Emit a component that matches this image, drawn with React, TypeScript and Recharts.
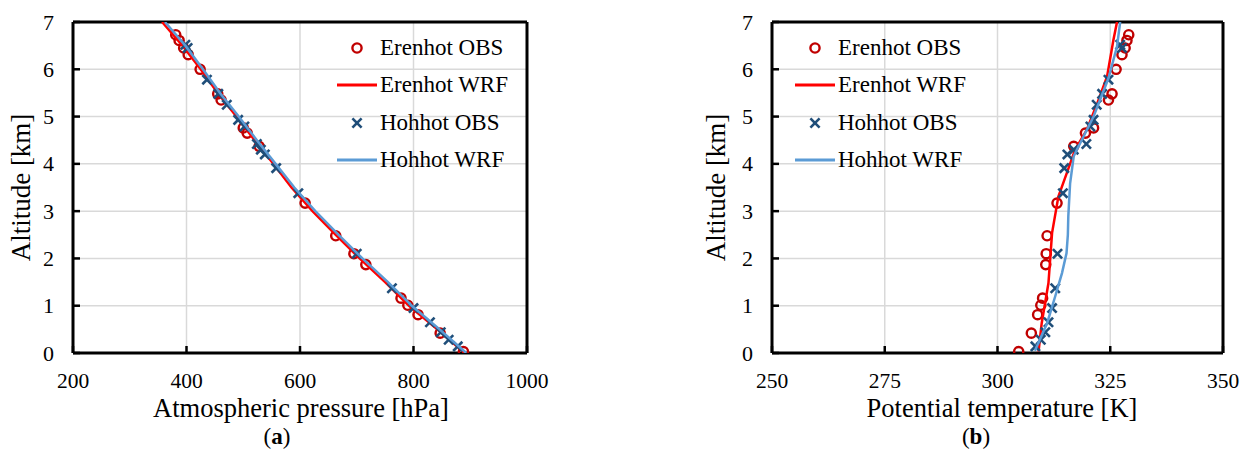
import React from 'react';
import { ScatterChart, Scatter, XAxis, YAxis, CartesianGrid, ReferenceLine, Legend } from 'recharts';

const FONT = '"Liberation Serif", "Times New Roman", Times, serif';

const altitudeTicks = [0, 1, 2, 3, 4, 5, 6, 7];
const pressureTicks = [200, 400, 600, 800, 1000];
const thetaTicks = [250, 275, 300, 325, 350];

const seriesNames = ['Erenhot OBS', 'Erenhot WRF', 'Hohhot OBS', 'Hohhot WRF'];

// Erenhot observations
const erenhotObsAlt = [6.73, 6.61, 6.45, 6.31, 6.0, 5.48, 5.35, 4.76, 4.65, 4.37, 3.17, 2.48, 2.1, 1.87, 1.16, 1.01, 0.81, 0.42, 0.03];
const erenhotObsPressure = [381, 387, 395, 403, 424, 455, 461, 500, 507, 528, 609, 663, 695, 716, 778, 790, 808, 847, 888];
const erenhotObsTheta = [329.1, 328.7, 328.3, 327.6, 326.3, 325.4, 324.6, 321.3, 319.5, 316.9, 313.2, 311.0, 310.8, 310.7, 310.0, 309.6, 308.9, 307.5, 304.7];

// Hohhot observations
const hohhotObsAlt = [6.52, 6.45, 5.78, 5.48, 5.25, 4.93, 4.79, 4.42, 4.3, 4.2, 3.91, 3.38, 2.1, 1.37, 0.95, 0.65, 0.44, 0.28, 0.14];
const hohhotObsPressure = [398, 402, 436, 456, 471, 491, 502, 524, 531, 538, 558, 597, 700, 762, 800, 829, 848, 862, 878];
const hohhotObsTheta = [327.2, 327.6, 324.6, 323.2, 322.0, 321.3, 320.6, 319.7, 316.9, 315.5, 314.8, 314.5, 313.3, 312.8, 312.1, 311.3, 310.6, 309.6, 308.4];

// WRF profiles, pressure panel
const wrfPressureAlt = [0, 0.5, 1, 1.5, 2, 2.5, 3, 3.5, 4, 4.5, 5, 5.5, 6, 6.5, 7];
const erenhotWrfPressure = [890, 842, 792, 750, 705, 663, 622, 585, 553, 520, 488, 455, 425, 393, 357];
const hohhotWrfPressure = [893, 846, 797, 755, 710, 668, 627, 590, 557, 524, 492, 459, 429, 398, 362];

// WRF profiles, potential temperature panel
const erenhotWrfThetaAlt = [0.03, 0.63, 1.48, 2.54, 3.31, 3.84, 4.3, 4.72, 5.3, 5.85, 6.62, 7.0];
const erenhotWrfTheta = [309.1, 309.8, 311.3, 312.1, 313.5, 315.5, 317.2, 319.8, 322.2, 324.3, 325.7, 326.5];
const hohhotWrfThetaAlt = [0.05, 0.63, 1.2, 1.69, 2.11, 2.5, 2.89, 3.59, 4.16, 4.3, 5.0, 5.81, 6.48, 7.0];
const hohhotWrfTheta = [308.3, 311.0, 312.8, 314.3, 315.3, 315.6, 315.7, 316.1, 316.9, 317.6, 321.3, 324.6, 326.5, 327.2];

const COLORS = {
  erenhotObs: '#C00000',
  erenhotWrf: '#FF0000',
  hohhotObs: '#1F4E79',
  hohhotWrf: '#5B9BD5',
};

const zip = (xs: number[], ys: number[]) => xs.map((x, i) => ({ x, y: ys[i] }));

const CircleShape = (props: any) => {
  const { cx, cy } = props;
  if (cx == null || cy == null) return <g />;
  return <circle cx={cx} cy={cy} r={4.6} fill="none" stroke={COLORS.erenhotObs} strokeWidth={2.4} />;
};

const CrossShape = (props: any) => {
  const { cx, cy } = props;
  if (cx == null || cy == null) return <g />;
  const s = 4.6;
  return (
    <g stroke={COLORS.hohhotObs} strokeWidth={2.6} strokeLinecap="butt">
      <line x1={cx - s} y1={cy - s} x2={cx + s} y2={cy + s} />
      <line x1={cx - s} y1={cy + s} x2={cx + s} y2={cy - s} />
    </g>
  );
};

const NoShape = () => <g />;

const XTick = (props: any) => {
  const { x, y, payload } = props;
  return (
    <g>
      <line x1={x} y1={y} x2={x} y2={y - 7} stroke="#000" strokeWidth={2.5} />
      <text x={x} y={y + 35} textAnchor="middle" fontFamily={FONT} fontSize={21.5} fill="#000">
        {payload.value}
      </text>
    </g>
  );
};

const YTick = (props: any) => {
  const { x, y, payload } = props;
  return (
    <g>
      <line x1={x} y1={y} x2={x + 7} y2={y} stroke="#000" strokeWidth={2.5} />
      <text x={x - 19} y={y + 7.5} textAnchor="end" fontFamily={FONT} fontSize={22} fill="#000">
        {payload.value}
      </text>
    </g>
  );
};

const XTitle = (props: any) => {
  const { cx, capCx, text, letter } = props;
  return (
    <g fontFamily={FONT} fill="#000">
      <text x={cx} y={416.5} textAnchor="middle" fontSize={26.5}>
        {text}
      </text>
      <text x={capCx} y={443.5} textAnchor="middle" fontSize={23}>
        <tspan>(</tspan>
        <tspan fontWeight="bold">{letter}</tspan>
        <tspan>)</tspan>
      </text>
    </g>
  );
};

const YTitle = (props: any) => {
  const { bx } = props;
  const cy = 187.5;
  return (
    <text
      x={bx}
      y={cy}
      transform={`rotate(-90, ${bx}, ${cy})`}
      textAnchor="middle"
      fontFamily={FONT}
      fontSize={27}
      fill="#000"
    >
      Altitude [km]
    </text>
  );
};

const LegendSymbol = ({ idx }: { idx: number }) => (
  <svg width={40} height={20} style={{ display: 'block' }}>
    {idx === 0 && <circle cx={20} cy={10} r={4.6} fill="none" stroke={COLORS.erenhotObs} strokeWidth={2.4} />}
    {idx === 1 && <line x1={0} y1={10} x2={40} y2={10} stroke={COLORS.erenhotWrf} strokeWidth={3} />}
    {idx === 2 && (
      <g stroke={COLORS.hohhotObs} strokeWidth={2.6}>
        <line x1={15.4} y1={5.4} x2={24.6} y2={14.6} />
        <line x1={15.4} y1={14.6} x2={24.6} y2={5.4} />
      </g>
    )}
    {idx === 3 && <line x1={0} y1={10} x2={40} y2={10} stroke={COLORS.hohhotWrf} strokeWidth={3} />}
  </svg>
);

const LegendBody = () => (
  <div style={{ fontFamily: FONT, fontSize: 23, color: '#000' }}>
    {seriesNames.map((name, i) => (
      <div key={name} style={{ display: 'flex', alignItems: 'center', height: 37.5, whiteSpace: 'nowrap' }}>
        <LegendSymbol idx={i} />
        <span style={{ marginLeft: 3, lineHeight: '26px' }}>{name}</span>
      </div>
    ))}
  </div>
);

type PanelProps = {
  left: number;
  width: number;
  yAxisWidth: number;
  marginRight: number;
  domain: [number, number];
  ticks: number[];
  erenhotObs: { x: number; y: number }[];
  hohhotObs: { x: number; y: number }[];
  erenhotWrf: { x: number; y: number }[];
  hohhotWrf: { x: number; y: number }[];
  title: string;
  titleCx: number;
  capCx: number;
  letter: string;
  yTitleX: number;
  legendLeft: number;
};

const Panel = (p: PanelProps) => (
  <div style={{ position: 'absolute', left: p.left, top: 0 }}>
    <ScatterChart width={p.width} height={453} margin={{ top: 22, right: p.marginRight, bottom: 0, left: 0 }}>
      <CartesianGrid stroke="#D9D9D9" strokeWidth={1.5} />
      <XAxis
        type="number"
        dataKey="x"
        domain={p.domain}
        ticks={p.ticks}
        allowDataOverflow
        height={100}
        tickSize={0}
        tickMargin={0}
        tickLine={false}
        axisLine={{ stroke: '#000', strokeWidth: 3 }}
        tick={<XTick />}
        interval={0}
        label={<XTitle cx={p.titleCx} capCx={p.capCx} text={p.title} letter={p.letter} />}
      />
      <YAxis
        type="number"
        dataKey="y"
        domain={[0, 7]}
        ticks={altitudeTicks}
        allowDataOverflow
        width={p.yAxisWidth}
        tickSize={0}
        tickMargin={0}
        tickLine={false}
        axisLine={{ stroke: '#000', strokeWidth: 3 }}
        tick={<YTick />}
        interval={0}
        label={<YTitle bx={p.yTitleX} />}
      />
      <Legend
        layout="horizontal"
        verticalAlign="middle"
        align="center"
        wrapperStyle={{ position: 'absolute', left: p.legendLeft, top: 29, width: 200 }}
        content={() => <LegendBody />}
      />
      <Scatter name={seriesNames[0]} data={p.erenhotObs} shape={<CircleShape />} isAnimationActive={false} />
      <Scatter
        name={seriesNames[1]}
        data={p.erenhotWrf}
        line={{ stroke: COLORS.erenhotWrf, strokeWidth: 2.5 }}
        shape={NoShape}
        isAnimationActive={false}
      />
      <Scatter name={seriesNames[2]} data={p.hohhotObs} shape={<CrossShape />} isAnimationActive={false} />
      <Scatter
        name={seriesNames[3]}
        data={p.hohhotWrf}
        line={{ stroke: COLORS.hohhotWrf, strokeWidth: 2.5 }}
        shape={NoShape}
        isAnimationActive={false}
      />
      <ReferenceLine y={7} stroke="#000" strokeWidth={3} />
      <ReferenceLine x={p.domain[1]} stroke="#000" strokeWidth={3} />
    </ScatterChart>
  </div>
);

export default function App() {
  return (
    <div style={{ position: 'absolute', left: 0, top: 0, width: 1250, height: 453, background: '#fff', overflow: 'hidden' }}>
      <Panel
        left={0}
        width={560}
        yAxisWidth={73}
        marginRight={33}
        domain={[200, 1000]}
        ticks={pressureTicks}
        erenhotObs={zip(erenhotObsPressure, erenhotObsAlt)}
        hohhotObs={zip(hohhotObsPressure, hohhotObsAlt)}
        erenhotWrf={zip(erenhotWrfPressure, wrfPressureAlt)}
        hohhotWrf={zip(hohhotWrfPressure, wrfPressureAlt)}
        title="Atmospheric pressure [hPa]"
        titleCx={301}
        capCx={277}
        letter="a"
        yTitleX={30}
        legendLeft={337}
      />
      <Panel
        left={690}
        width={560}
        yAxisWidth={82}
        marginRight={27}
        domain={[250, 350]}
        ticks={thetaTicks}
        erenhotObs={zip(erenhotObsTheta, erenhotObsAlt)}
        hohhotObs={zip(hohhotObsTheta, hohhotObsAlt)}
        erenhotWrf={zip(erenhotWrfTheta, erenhotWrfThetaAlt)}
        hohhotWrf={zip(hohhotWrfTheta, hohhotWrfThetaAlt)}
        title="Potential temperature [K]"
        titleCx={312}
        capCx={286}
        letter="b"
        yTitleX={35}
        legendLeft={105}
      />
    </div>
  );
}
